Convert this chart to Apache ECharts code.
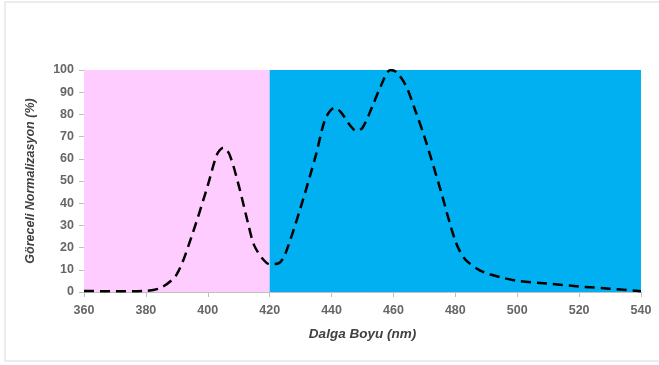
<!DOCTYPE html>
<html><head><meta charset="utf-8">
<script src="https://cdn.jsdelivr.net/npm/echarts@6/dist/echarts.min.js"></script>
<style>html,body{margin:0;padding:0;background:#fff}#c{width:659px;height:365px}</style>
</head><body><div id="c"></div>
<script>
const wavelengths = [360,370,380,385,390,395,400,403,405,407,410,413,415,418,420,423,425,430,435,438,441,443,446,448,450,453,456,459,461,464,467,470,475,480,483,487,490,495,500,510,520,530,540];
const intensity   = [0.5,0.3,0.5,2,8,26,48,62,65,62,48,31,21,14.5,12.5,13,17,38,62,78,83,81,75,72.5,74,83,93,100,99,93,82,70,47,23,15,10.5,8.5,6.5,5,3.8,2.5,1.5,0.3];
const xTicks = [360,380,400,420,440,460,480,500,520,540];
const regions = [[360,420,'#FFCCFF'],[420,540,'#00B0F0']];

const chart = echarts.init(document.getElementById('c'));
const labelStyle = {color:'#666666', fontFamily:'Liberation Sans, Arial', fontSize:12.5, fontWeight:'bold'};
chart.setOption({
  animation:false,
  graphic:[{type:'rect', shape:{x:5,y:2,width:660,height:359}, style:{fill:'none', stroke:'#ececec', lineWidth:2}, z:-10}],
  grid:{left:84,right:18,top:70,bottom:73},
  xAxis:{type:'value',min:360,max:540,interval:20,
    axisLine:{show:true,lineStyle:{color:'#bfbfbf'}},
    axisTick:{show:true,length:5,lineStyle:{color:'#bfbfbf'}},
    splitLine:{show:false},
    axisLabel:Object.assign({margin:12},labelStyle),
    name:'Dalga Boyu (nm)', nameLocation:'middle', nameGap:35,
    nameTextStyle:{color:'#404040',fontStyle:'italic',fontWeight:'bold',fontSize:13.5,fontFamily:'Liberation Sans, Arial'}},
  yAxis:{type:'value',min:0,max:100,interval:10,
    axisLine:{show:true,lineStyle:{color:'#bfbfbf'}},
    axisTick:{show:true,length:5,lineStyle:{color:'#bfbfbf'}},
    splitLine:{show:false},
    axisLabel:Object.assign({margin:10},labelStyle),
    name:'Göreceli Normalizasyon (%)', nameLocation:'middle', nameGap:47, nameRotate:90,
    nameTextStyle:{color:'#404040',fontStyle:'italic',fontWeight:'bold',fontSize:12.5,fontFamily:'Liberation Sans, Arial'}},
  series:[{
    type:'line', smooth:0.3, symbol:'none',
    data: wavelengths.map((w,i)=>[w,intensity[i]]),
    lineStyle:{color:'#000',width:2.5,type:[10,6]},
    z:5,
    markArea:{silent:true, data: regions.map(r=>[{xAxis:r[0],yAxis:0,itemStyle:{color:r[2],opacity:1}},{xAxis:r[1],yAxis:100}])}
  }]
});
</script></body></html>
